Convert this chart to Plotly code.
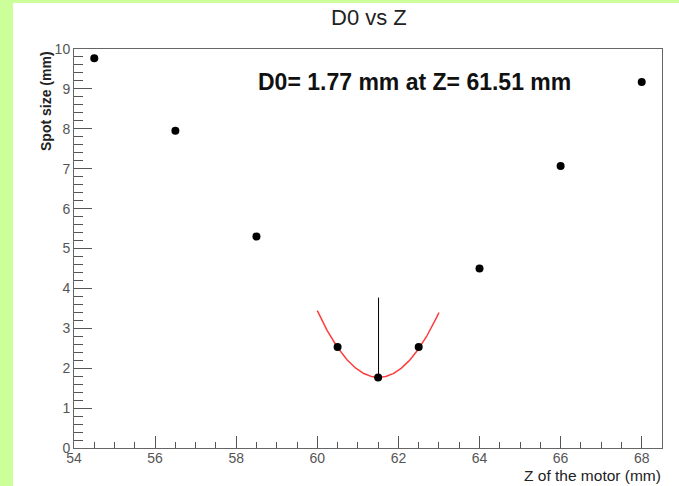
import numpy as np
import plotly.graph_objects as go

# Measured points
z_mm = [54.5, 56.5, 58.5, 60.5, 61.5, 62.5, 64.0, 66.0, 68.0]
spot_mm = [9.77, 7.95, 5.30, 2.53, 1.77, 2.53, 4.50, 7.07, 9.17]

# Parabola fit parameters (from the picture)
fit_z0 = 61.51
fit_d0 = 1.77
fit_a = 0.733
fit_range = [60.0, 63.0]
marker_height = 2.0

x_ticks = [54, 56, 58, 60, 62, 64, 66, 68]
y_ticks = list(range(0, 11))

W, H = 679, 486
L, R, T, B = 74, 17, 49, 38
pw, ph = W - L - R, H - T - B

def px_x(p):
    return (p - L) / pw

def px_y(p):
    return (H - B - p) / ph

zf = np.linspace(fit_range[0], fit_range[1], 200)
df = fit_a * (zf - fit_z0) ** 2 + fit_d0

fig = go.Figure()
fig.add_trace(go.Scatter(x=zf, y=df, mode="lines",
                         line=dict(color="rgb(255,60,60)", width=1.5),
                         hoverinfo="skip"))
fig.add_trace(go.Scatter(x=[fit_z0, fit_z0], y=[fit_d0, fit_d0 + marker_height],
                         mode="lines", line=dict(color="black", width=1)))
fig.add_trace(go.Scatter(x=z_mm, y=spot_mm, mode="markers",
                         marker=dict(color="black", size=8)))

font = "Liberation Sans, Arial, sans-serif"
tickfont = dict(family=font, size=14, color="#555")

fig.update_layout(
    width=W, height=H,
    margin=dict(l=L, r=R, t=T, b=B, pad=0),
    paper_bgcolor="#ccff99",
    plot_bgcolor="white",
    showlegend=False,
    xaxis=dict(range=[54, 68.5], tickvals=x_ticks, ticks="inside", ticklen=12,
               tickcolor="#555", showgrid=False, zeroline=False,
               showline=True, linecolor="#666", linewidth=1, mirror=True,
               tickfont=tickfont, ticklabelstandoff=-3,
               minor=dict(dtick=0.5, ticks="inside", ticklen=6, tickcolor="#555")),
    yaxis=dict(range=[0, 10], tickvals=y_ticks, ticks="inside", ticklen=18,
               tickcolor="#555", showgrid=False, zeroline=False,
               showline=True, linecolor="#666", linewidth=1, mirror=True,
               tickfont=tickfont,
               minor=dict(dtick=0.2, ticks="inside", ticklen=9, tickcolor="#555")),
    shapes=[dict(type="rect", xref="paper", yref="paper", layer="below",
                 x0=px_x(13), x1=px_x(W + 5), y0=px_y(H + 5), y1=px_y(3),
                 fillcolor="white", line=dict(width=0))],
    annotations=[
        dict(text="D0 vs Z", xref="paper", yref="paper", x=px_x(369), y=px_y(17),
             showarrow=False, font=dict(family=font, size=22, color="#222"),
             xanchor="center", yanchor="middle"),
        dict(text="<b>D0= %.2f mm at Z= %.2f mm</b>" % (fit_d0, fit_z0),
             xref="paper", yref="paper", x=px_x(414.5), y=px_y(82),
             showarrow=False, font=dict(family=font, size=23, color="#111"),
             xanchor="center", yanchor="middle"),
        dict(text="<b>Spot size (mm)</b>", xref="paper", yref="paper",
             x=px_x(46), y=1.0, textangle=-90, showarrow=False,
             font=dict(family=font, size=14, color="#222"),
             xanchor="center", yanchor="top"),
        dict(text="Z of the motor (mm)", xref="paper", yref="paper",
             x=px_x(663), y=px_y(H), showarrow=False,
             font=dict(family=font, size=15.5, color="#222"),
             xanchor="right", yanchor="bottom"),
    ],
)

fig.write_html("out.html", config={"displayModeBar": False},
               post_script="document.body.style.margin='0';document.body.style.overflow='hidden';")
